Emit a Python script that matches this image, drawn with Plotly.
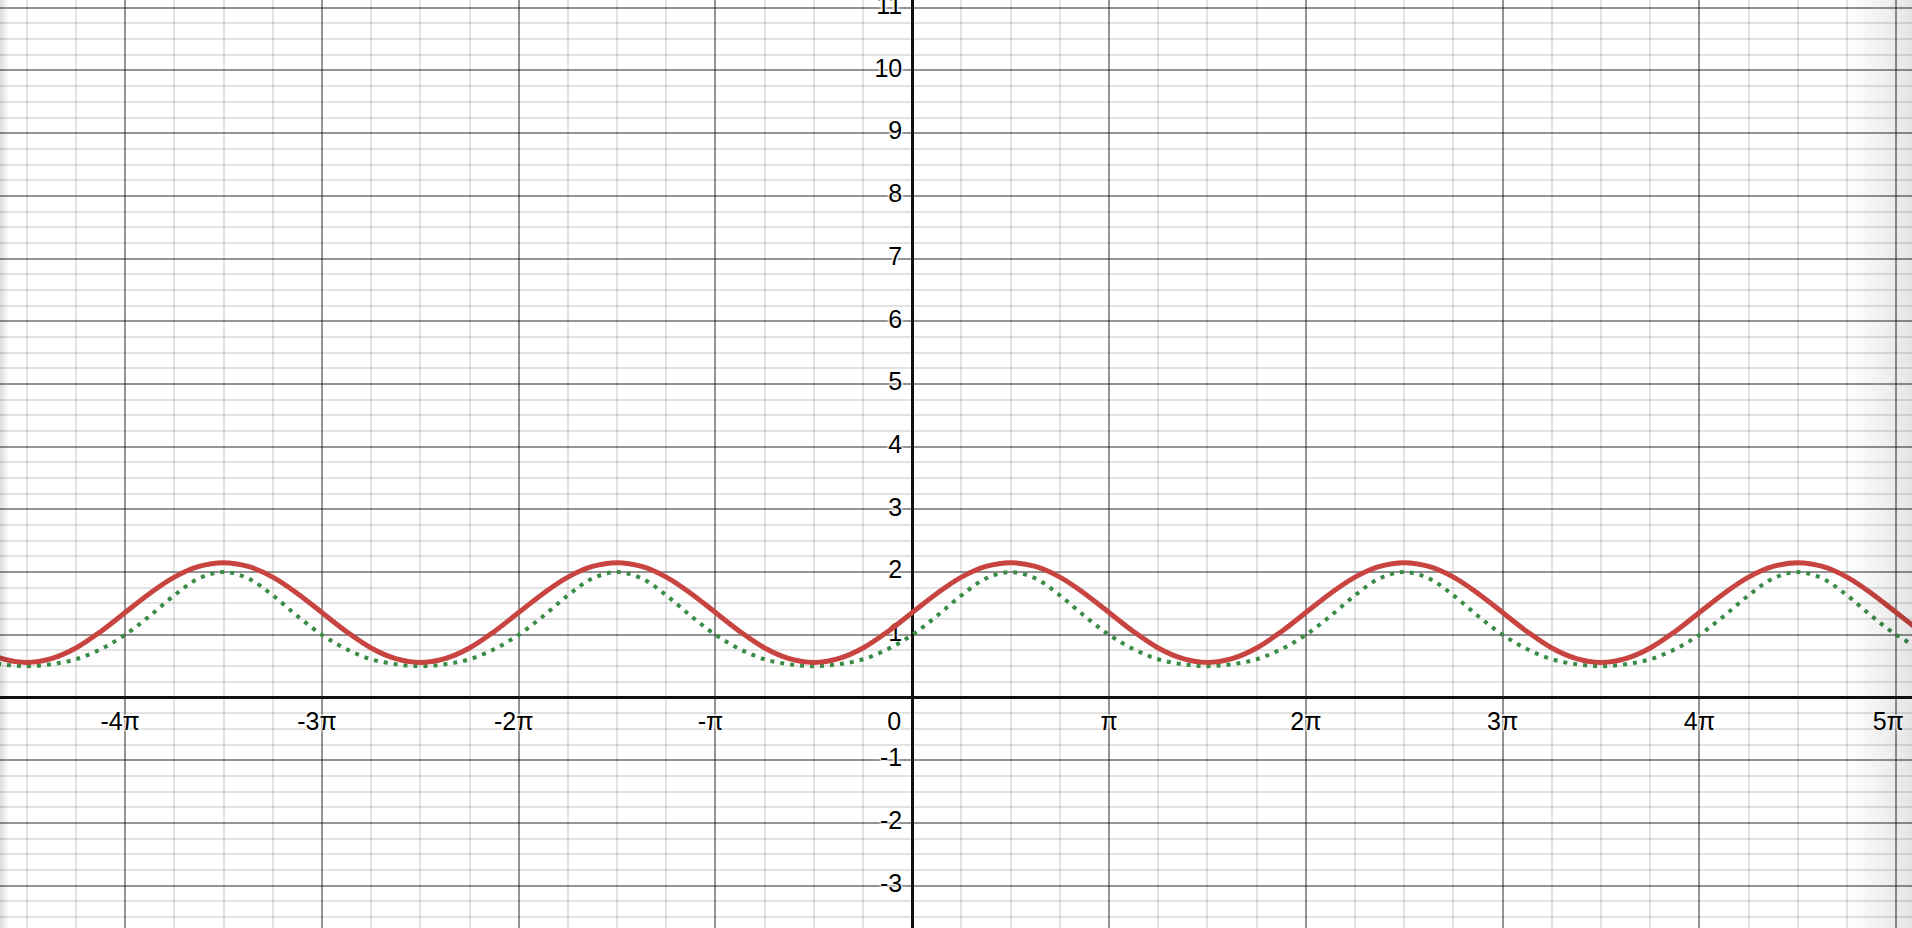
import numpy as np
import plotly.graph_objects as go

PI = np.pi

# x sample positions, in units of pi/8
x_eighths = list(range(-38, 42))

# red solid curve values (one value per pi/8)
red_vals = [
    0.79, 0.62, 0.56, 0.62, 0.79, 1.05, 1.355, 1.66, 1.92, 2.09, 2.15, 2.09, 1.92, 1.66, 1.355, 1.05,
    0.79, 0.62, 0.56, 0.62, 0.79, 1.05, 1.355, 1.66, 1.92, 2.09, 2.15, 2.09, 1.92, 1.66, 1.355, 1.05,
    0.79, 0.62, 0.56, 0.62, 0.79, 1.05, 1.355, 1.66, 1.92, 2.09, 2.15, 2.09, 1.92, 1.66, 1.355, 1.05,
    0.79, 0.62, 0.56, 0.62, 0.79, 1.05, 1.355, 1.66, 1.92, 2.09, 2.15, 2.09, 1.92, 1.66, 1.355, 1.05,
    0.79, 0.62, 0.56, 0.62, 0.79, 1.05, 1.355, 1.66, 1.92, 2.09, 2.15, 2.09, 1.92, 1.66, 1.355, 1.05,
]

# green dotted curve values
green_vals = [
    0.61, 0.53, 0.50, 0.53, 0.61, 0.77, 1.00, 1.30, 1.63, 1.90, 2.00, 1.90, 1.63, 1.30, 1.00, 0.77,
    0.61, 0.53, 0.50, 0.53, 0.61, 0.77, 1.00, 1.30, 1.63, 1.90, 2.00, 1.90, 1.63, 1.30, 1.00, 0.77,
    0.61, 0.53, 0.50, 0.53, 0.61, 0.77, 1.00, 1.30, 1.63, 1.90, 2.00, 1.90, 1.63, 1.30, 1.00, 0.77,
    0.61, 0.53, 0.50, 0.53, 0.61, 0.77, 1.00, 1.30, 1.63, 1.90, 2.00, 1.90, 1.63, 1.30, 1.00, 0.77,
    0.61, 0.53, 0.50, 0.53, 0.61, 0.77, 1.00, 1.30, 1.63, 1.90, 2.00, 1.90, 1.63, 1.30, 1.00, 0.77,
]

# tick labels
x_tick_mult = [-4, -3, -2, -1, 1, 2, 3, 4, 5]
x_tick_text = ["-4π", "-3π", "-2π", "-π", "π", "2π", "3π", "4π", "5π"]
y_tick_vals = [-3, -2, -1, 1, 2, 3, 4, 5, 6, 7, 8, 9, 10, 11]
y_tick_text = ["-3", "-2", "-1", "1", "2", "3", "4", "5", "6", "7", "8", "9", "10", "11"]

W, H = 1912, 928
X_RANGE = [-14.564, 15.96]
Y_RANGE = [-3.676, 11.124]
px_per_unit = W / (X_RANGE[1] - X_RANGE[0])

x_vals = [k * PI / 8 for k in x_eighths]

FONT = "Liberation Sans, Arial, sans-serif"
FSIZE = 25
HALO = "0 0 3px white, 0 0 3px white, 0 0 3px white, 0 0 3px white, 0 0 2px white"

fig = go.Figure()

# x labels (drawn first so curves sit above them)
def xshift(m):
    if m == 5:
        return -8 / px_per_unit
    if m < 0:
        return -5 / px_per_unit
    return 0.0

fig.add_trace(go.Scatter(
    x=[m * PI + xshift(m) for m in x_tick_mult] + [-18 / px_per_unit],
    y=[-26 / px_per_unit] * (len(x_tick_mult) + 1),
    text=x_tick_text + ["0"],
    mode="text",
    textposition="middle center",
    textfont=dict(family=FONT, size=FSIZE, color="#000000", shadow=HALO),
    hoverinfo="skip",
    showlegend=False,
))

fig.add_trace(go.Scatter(
    x=[-10 / px_per_unit] * len(y_tick_vals),
    y=y_tick_vals,
    text=y_tick_text,
    mode="text",
    textposition="middle left",
    textfont=dict(family=FONT, size=FSIZE, color="#000000", shadow=HALO),
    hoverinfo="skip",
    showlegend=False,
))

fig.add_trace(go.Scatter(
    x=x_vals, y=green_vals, mode="lines",
    line=dict(color="#388c46", width=4, dash="4px,6px", shape="spline", smoothing=1.0),
    hoverinfo="skip", showlegend=False,
))
fig.add_trace(go.Scatter(
    x=x_vals, y=red_vals, mode="lines",
    line=dict(color="#c74440", width=5, shape="spline", smoothing=1.0),
    hoverinfo="skip", showlegend=False,
))

# edge shading (stepped gradient)
shapes = []
n = 16
for i in range(n):
    x0 = 1848 + i * 4
    x1 = x0 + 4
    shapes.append(dict(type="rect", xref="paper", yref="paper",
                       x0=x0 / W, x1=x1 / W, y0=0, y1=1, layer="above",
                       line=dict(width=0), fillcolor="black",
                       opacity=0.10 * (i + 1) / n))
for i in range(4):
    x0 = i * 2
    x1 = x0 + 2
    shapes.append(dict(type="rect", xref="paper", yref="paper",
                       x0=x0 / W, x1=x1 / W, y0=0, y1=1, layer="above",
                       line=dict(width=0), fillcolor="black",
                       opacity=0.12 * (4 - i) / 4))

fig.update_layout(
    width=W, height=H,
    margin=dict(l=0, r=0, t=0, b=0),
    paper_bgcolor="white", plot_bgcolor="white",
    shapes=shapes,
    xaxis=dict(
        range=X_RANGE, showticklabels=False, ticks="", showline=False,
        tick0=0, dtick=PI, showgrid=True, gridcolor="rgba(0,0,0,0.42)", gridwidth=2,
        zeroline=True, zerolinecolor="#111111", zerolinewidth=3,
        minor=dict(tick0=0, dtick=PI / 4, showgrid=True, gridcolor="rgba(0,0,0,0.11)", gridwidth=2),
        fixedrange=True,
    ),
    yaxis=dict(
        range=Y_RANGE, showticklabels=False, ticks="", showline=False,
        tick0=0, dtick=1, showgrid=True, gridcolor="rgba(0,0,0,0.42)", gridwidth=2,
        zeroline=True, zerolinecolor="#111111", zerolinewidth=3,
        minor=dict(tick0=0, dtick=0.25, showgrid=True, gridcolor="rgba(0,0,0,0.11)", gridwidth=2),
        fixedrange=True,
    ),
)

fig.write_html("out.html", config={"displayModeBar": False},
               post_script="document.body.style.margin='0';document.body.style.overflow='hidden';")
